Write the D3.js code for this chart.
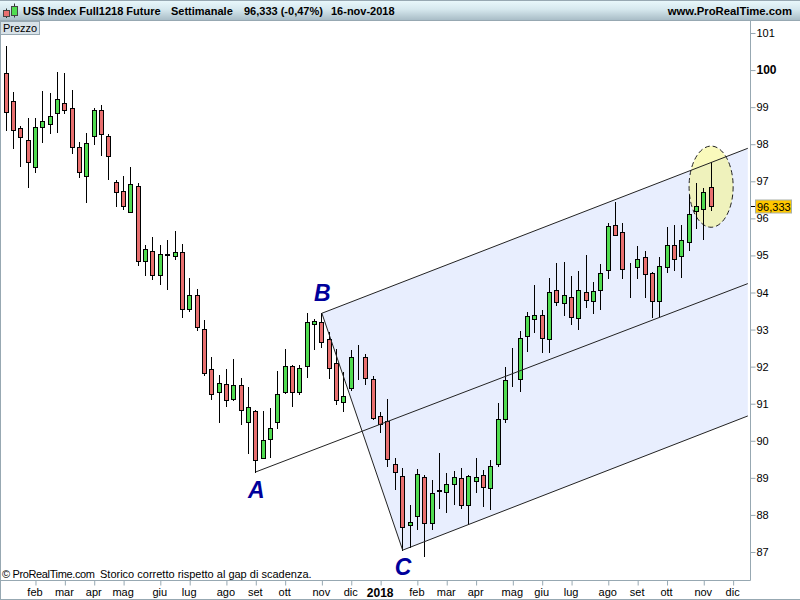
<!DOCTYPE html>
<html>
<head>
<meta charset="utf-8">
<script src="https://cdn.jsdelivr.net/npm/d3@7"></script>
<style>
  html, body { margin: 0; padding: 0; background: #fff; }
  svg { display: block; }
  text { font-family: "Liberation Sans", Arial, sans-serif; fill: #000; }
</style>
</head>
<body>
<div id="wrapper"></div>
<script>
// 1. Data, one value per weekly candle

const opens = [
  99.91,99.16,98.43,98.11,97.38,98.46,98.54,98.83,99.10,98.97,
  97.92,97.13,98.21,98.92,98.21,96.97,96.73,96.16,96.87,94.84,
  95.11,94.46,95.03,94.98,95.08,93.55,93.92,93.01,91.93,91.31,
  91.52,91.12,91.50,90.50,90.80,89.53,90.04,90.50,91.32,92.01,
  91.32,92.01,93.14,93.20,92.74,92.09,91.04,91.42,92.23,92.25,
  91.66,90.66,90.53,89.37,89.04,87.72,87.96,89.02,87.77,88.66,
  88.61,88.83,88.99,88.26,88.91,89.07,88.72,89.37,90.58,91.63,
  91.66,92.82,93.28,93.39,92.74,94.06,93.71,93.87,93.30,94.01,
  93.76,94.06,94.60,95.81,95.62,94.65,94.68,94.95,94.52,93.76,
  94.68,95.27,94.98,95.35,96.19,96.24,96.84,
]
const closes = [
  98.86,98.38,98.19,97.51,98.46,98.62,98.75,99.21,98.92,97.92,
  97.24,98.03,98.92,98.27,97.67,96.70,96.33,96.92,94.84,95.17,
  94.46,95.03,95.00,95.08,93.55,93.92,93.06,91.82,91.25,91.55,
  91.09,91.50,90.82,90.90,89.47,90.01,90.34,91.25,92.01,91.31,
  91.96,93.20,93.22,92.66,91.96,91.09,91.20,92.25,92.23,91.69,
  90.61,90.44,89.50,89.15,87.67,87.80,89.10,87.77,88.58,88.64,
  88.83,89.02,88.26,89.04,89.02,88.75,89.31,90.58,91.63,91.63,
  92.76,93.36,93.39,92.76,94.01,93.74,93.92,93.33,94.06,93.79,
  94.03,94.52,95.79,95.54,94.63,94.65,94.90,94.49,93.76,94.71,
  95.27,94.90,95.41,96.11,96.33,96.70,96.333,
]
const highs = [
  100.65,99.41,98.49,98.70,98.70,99.44,99.38,99.94,99.92,99.46,
  98.05,98.30,98.97,99.05,98.27,97.03,97.14,97.39,96.95,95.28,
  95.49,95.28,95.41,95.65,95.30,94.38,94.09,93.25,92.25,91.77,
  91.93,92.20,91.69,91.44,90.82,90.80,90.88,91.88,92.47,92.04,
  92.04,93.44,93.28,93.44,92.93,92.47,91.85,92.44,92.58,92.33,
  91.74,90.77,91.12,89.53,89.26,88.26,89.23,89.07,88.93,89.66,
  89.12,89.18,89.26,89.07,89.53,89.20,89.47,91.01,91.98,92.49,
  92.95,93.47,94.19,93.52,94.38,94.79,94.82,94.44,94.57,95.00,
  94.28,94.76,95.87,96.43,95.87,94.79,95.25,95.11,94.55,94.95,
  95.76,95.81,95.81,96.63,96.95,96.81,97.51,
]
const lows = [
  98.37,97.91,97.42,96.85,97.26,98.07,98.31,98.34,98.83,97.77,
  97.12,96.45,98.01,97.72,97.07,96.34,96.24,96.16,94.75,94.48,
  94.37,94.24,94.10,94.90,93.35,93.51,93.00,91.78,91.14,90.52,
  90.95,91.09,90.46,89.68,89.16,89.53,89.57,90.35,91.30,90.95,
  91.27,91.73,92.48,92.52,91.69,90.98,90.80,91.36,91.66,91.52,
  90.58,90.23,89.31,88.71,87.05,87.14,87.63,86.90,87.63,88.20,
  88.09,88.30,88.20,87.76,88.63,88.25,88.17,89.31,90.50,91.47,
  91.34,92.41,92.93,92.40,92.40,93.65,93.39,93.14,93.01,93.60,
  93.44,93.55,94.38,95.54,94.38,93.89,94.38,93.89,93.35,93.37,
  94.56,94.61,94.43,95.15,95.75,95.45,96.22,
]

// month ticks sit on the week index they were printed at
const monthLabels = ["feb","mar","apr","mag","giu","lug","ago","set","ott","nov","dic","2018",
  "feb","mar","apr","mag","giu","lug","ago","set","ott","nov","dic"]
const monthWeeks = [4,8,12,16,21,25,30,34,38,43,47,51,56,60,64,69,73,77,82,86,90,95,99]
const priceTicks = d3.range(87, 102)
const lastPrice = 96.333

// pitchfork anchors as [week, price]
const pivotA = [34, 89.16]
const pivotB = [43, 93.44]
const pivotC = [54, 87.05]
const upperEnd = [101, 97.89]
const medianEnd = [101, 94.24]
const lowerEnd = [101, 90.67]
const highlightWeeks = [93, 99]
const highlightPrices = [95.76, 97.95]

const candles = d3.range(opens.length).map(i => ({
  i, open: opens[i], close: closes[i], high: highs[i], low: lows[i],
}))

// 2. Dimensions

const dimensions = {
  width: 800,
  height: 600,
  plotTop: 20,
  plotRight: 750,
  plotBottom: 580,
}
const borderColor = "#97a8b2"

// 3. Canvas

const wrapper = d3.select("#wrapper")
  .append("svg")
    .attr("width", dimensions.width)
    .attr("height", dimensions.height)

const defs = wrapper.append("defs")
const headerGradient = defs.append("linearGradient")
    .attr("id", "header-gradient")
    .attr("x1", 0).attr("x2", 0).attr("y1", 0).attr("y2", 1)
headerGradient.append("stop").attr("offset", "0%").attr("stop-color", "#e9f8fc")
headerGradient.append("stop").attr("offset", "45%").attr("stop-color", "#d6e8ee")
headerGradient.append("stop").attr("offset", "100%").attr("stop-color", "#a9bdc7")

// 4. Scales

const xScale = d3.scaleLinear()
  .domain([0, 96])
  .range([6.1, 711.1])
const yScale = d3.scaleLinear()
  .domain([87, 101])
  .range([552, 33])

const px = i => Math.floor(xScale(i)) + 0.5
const py = v => Math.round(yScale(v)) + 0.5

// 5. Draw data

const forkFill = d3.line()
  .x(d => xScale(d[0]))
  .y(d => yScale(d[1]))

wrapper.append("path")
    .attr("d", forkFill([pivotB, upperEnd, lowerEnd, pivotC]) + "Z")
    .attr("fill", "#e8eefe")

wrapper.append("ellipse")
    .attr("cx", (xScale(highlightWeeks[0]) + xScale(highlightWeeks[1])) / 2)
    .attr("cy", (yScale(highlightPrices[0]) + yScale(highlightPrices[1])) / 2)
    .attr("rx", (xScale(highlightWeeks[1]) - xScale(highlightWeeks[0])) / 2)
    .attr("ry", (yScale(highlightPrices[0]) - yScale(highlightPrices[1])) / 2)
    .attr("fill", "#f5f57a")
    .attr("fill-opacity", 0.5)
    .attr("stroke", "#222")
    .attr("stroke-dasharray", "5 3")

const candleGroups = wrapper.append("g").selectAll("g")
  .data(candles)
  .enter().append("g")

candleGroups.append("line")
    .attr("x1", d => px(d.i))
    .attr("x2", d => px(d.i))
    .attr("y1", d => py(d.high) - 0.5)
    .attr("y2", d => py(d.low) + 0.5)
    .attr("stroke", "#000")

candleGroups.append("rect")
    .attr("x", d => px(d.i) - 2)
    .attr("width", 4)
    .attr("y", d => py(Math.max(d.open, d.close)))
    .attr("height", d => py(Math.min(d.open, d.close)) - py(Math.max(d.open, d.close)))
    .attr("fill", d => d.close >= d.open ? "#50dc50" : "#e86f6f")
    .attr("stroke", "#000")

const forkLines = [
  [pivotA, medianEnd],
  [pivotB, upperEnd],
  [pivotC, lowerEnd],
  [pivotB, pivotC],
]
wrapper.append("g").selectAll("path")
  .data(forkLines)
  .enter().append("path")
    .attr("d", forkFill)
    .attr("fill", "none")
    .attr("stroke", "#222")
    .attr("stroke-width", 1)

const pivotLabels = [["A", pivotA, 26], ["B", pivotB, -12], ["C", pivotC, 25]]
wrapper.append("g").selectAll("text")
  .data(pivotLabels)
  .enter().append("text")
    .attr("x", d => xScale(d[1][0]) + 0.5)
    .attr("y", d => yScale(d[1][1]) + d[2])
    .attr("text-anchor", "middle")
    .attr("font-size", 23)
    .attr("font-weight", "bold")
    .attr("font-style", "italic")
    .style("fill", "#00009b")
    .text(d => d[0])

// 6. Peripherals

// price axis on the right
const yAxisGroup = wrapper.append("g")
    .attr("transform", `translate(${dimensions.plotRight + 0.5}, 0)`)
    .call(d3.axisRight(yScale).tickValues(priceTicks).tickSize(5).tickPadding(1).tickFormat(d => d))
yAxisGroup.select(".domain").remove()
yAxisGroup.selectAll("line").attr("stroke", borderColor)
yAxisGroup.selectAll("text")
    .attr("font-size", d => d == 100 ? 12 : 11)
    .attr("font-family", "'Liberation Sans', Arial, sans-serif")
    .attr("font-weight", d => d == 100 ? "bold" : "normal")

// time axis at the bottom
const xAxisGroup = wrapper.append("g")
    .attr("transform", `translate(0, ${dimensions.plotBottom + 0.5})`)
    .call(d3.axisBottom(xScale)
      .tickValues(monthWeeks).tickSize(5).tickPadding(3)
      .tickFormat((d, i) => monthLabels[i]))
xAxisGroup.select(".domain").remove()
xAxisGroup.selectAll("line").attr("stroke", borderColor)
xAxisGroup.selectAll("text")
    .attr("dx", -1)
    .attr("font-size", (d, i) => monthLabels[i] == "2018" ? 12 : 11)
    .attr("font-family", "'Liberation Sans', Arial, sans-serif")
    .attr("font-weight", (d, i) => monthLabels[i] == "2018" ? "bold" : "normal")

// frame
const frameSegments = [
  [0.5, dimensions.plotBottom + 0.5, dimensions.plotRight + 0.5, dimensions.plotBottom + 0.5],
  [dimensions.plotRight + 0.5, dimensions.plotTop, dimensions.plotRight + 0.5, dimensions.plotBottom + 0.5],
  [0.5, 0, 0.5, dimensions.height],
  [0, dimensions.height - 0.5, dimensions.width, dimensions.height - 0.5],
]
wrapper.append("g").selectAll("line")
  .data(frameSegments)
  .enter().append("line")
    .attr("x1", d => d[0]).attr("y1", d => d[1])
    .attr("x2", d => d[2]).attr("y2", d => d[3])
    .attr("stroke", borderColor)

// last price flag
wrapper.append("line")
    .attr("x1", dimensions.plotRight + 1).attr("x2", dimensions.plotRight + 5)
    .attr("y1", py(lastPrice)).attr("y2", py(lastPrice))
    .attr("stroke", "#000")
wrapper.append("rect")
    .attr("x", 755.5).attr("y", py(lastPrice) - 6.5)
    .attr("width", 36).attr("height", 13)
    .attr("fill", "#ffc800")
    .attr("stroke", "#aab0a8")
wrapper.append("text")
    .attr("x", 757).attr("y", py(lastPrice) + 4)
    .attr("font-size", 11)
    .text("96,333")

// header bar
wrapper.append("rect")
    .attr("x", 0).attr("y", 0.5)
    .attr("width", dimensions.width).attr("height", 19.5)
    .attr("fill", "url(#header-gradient)")
wrapper.append("line")
    .attr("x1", 0).attr("x2", dimensions.width).attr("y1", 0.5).attr("y2", 0.5)
    .attr("stroke", borderColor)
wrapper.append("line")
    .attr("x1", 0).attr("x2", dimensions.width).attr("y1", 20.5).attr("y2", 20.5)
    .attr("stroke", borderColor)

// small two candle icon
const iconCandles = [
  {x: 6.5, top: 10.5, bottom: 16.5, wickTop: 8.5, wickBottom: 18, fill: "#e86f6f"},
  {x: 14.5, top: 6.5, bottom: 15.5, wickTop: 3.5, wickBottom: 17.5, fill: "#50dc50"},
]
const icon = wrapper.append("g").selectAll("g")
  .data(iconCandles)
  .enter().append("g")
icon.append("line")
    .attr("x1", d => d.x).attr("x2", d => d.x)
    .attr("y1", d => d.wickTop).attr("y2", d => d.wickBottom)
    .attr("stroke", "#333")
icon.append("rect")
    .attr("x", d => d.x - 3).attr("width", 6)
    .attr("y", d => d.top).attr("height", d => d.bottom - d.top)
    .attr("fill", d => d.fill)
    .attr("stroke", "#444")

const headerTexts = [
  ["US$ Index Full1218 Future", 23],
  ["Settimanale", 171],
  ["96,333 (-0,47%)", 244],
  ["16-nov-2018", 331],
]
wrapper.append("g").selectAll("text")
  .data(headerTexts)
  .enter().append("text")
    .attr("x", d => d[1])
    .attr("y", 15)
    .attr("font-size", 11)
    .attr("font-weight", "bold")
    .text(d => d[0])
wrapper.append("text")
    .attr("x", 792).attr("y", 15)
    .attr("text-anchor", "end")
    .attr("font-size", 11.3)
    .attr("font-weight", "bold")
    .text("www.ProRealTime.com")

// "Prezzo" tab
wrapper.append("rect")
    .attr("x", 0.5).attr("y", 21.5)
    .attr("width", 39).attr("height", 13)
    .attr("fill", "#d8e2e8")
    .attr("stroke", borderColor)
wrapper.append("text")
    .attr("x", 3).attr("y", 32)
    .attr("font-size", 11)
    .text("Prezzo")

// footer note
wrapper.append("text")
    .attr("x", 2).attr("y", 578)
    .attr("font-size", 11)
    .attr("textLength", 93)
    .text("© ProRealTime.com")
wrapper.append("text")
    .attr("x", 100).attr("y", 578)
    .attr("font-size", 11)
    .text("Storico corretto rispetto al gap di scadenza.")
</script>
</body>
</html>
